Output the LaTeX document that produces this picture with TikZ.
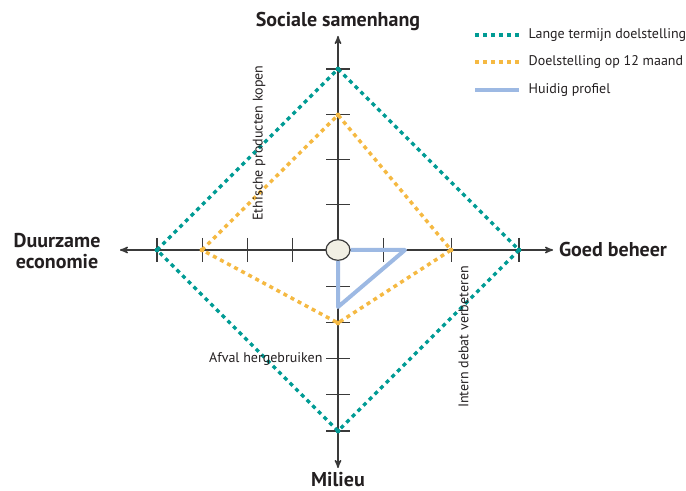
\documentclass[tikz,border=0pt]{standalone}
\usepackage{fontspec}
\setmainfont{PT Sans}
\usetikzlibrary{shapes.geometric, arrows}
\definecolor{axisgray}{HTML}{3A3A3A}
\definecolor{textgray}{HTML}{231F20}
\definecolor{longcol}{HTML}{009B94}
\definecolor{shortcol}{HTML}{F5B942}
\definecolor{nowcol}{HTML}{9DB9E3}
\definecolor{centrefill}{HTML}{F1EFE4}
\tikzstyle{axis} = [draw=axisgray, line width=1.1pt, -stealth']
\tikzstyle{tick} = [draw=axisgray, line width=0.9pt]
\tikzstyle{longterm} = [draw=longcol, line width=2.6pt, dash pattern=on 3pt off 3pt]
\tikzstyle{shortterm} = [draw=shortcol, line width=2.6pt, dash pattern=on 3pt off 3pt]
\tikzstyle{current} = [draw=nowcol, line width=3pt, line join=round]
\tikzstyle{axislabel} = [text=textgray, font=\bfseries\fontsize{15}{15.5}\selectfont, align=center, inner sep=0pt]
\tikzstyle{itemlabel} = [text=textgray, font=\fontsize{10.5}{12}\selectfont, inner sep=1pt]
\tikzset{
  centre/.style={
    ellipse,
    draw=axisgray,
    line width=0.9pt,
    fill=centrefill,
    minimum width=18pt,
    minimum height=15.5pt,
    inner sep=0pt}
}

\begin{document}
\begin{tikzpicture}[x=0.75pt, y=-0.75pt]
      \useasboundingbox (0,0) rectangle (686,491);
      % Axes and ticks
      \coordinate (origin) at (338,250);
      \coordinate (social_end) at (338,36);
      \coordinate (environment_end) at (338,468);
      \coordinate (economy_end) at (120,250);
      \coordinate (governance_end) at (553,250);
      \draw [axis] (origin) -- (social_end);
      \draw [axis] (origin) -- (environment_end);
      \draw [axis] (origin) -- (economy_end);
      \draw [axis] (origin) -- (governance_end);
      \foreach \d in {45.25,90.5,135.75,181}
        \draw [tick] ({326},{250-\d}) -- ++(24,0);
      \foreach \d in {36.2,72.4,108.6,144.8,181}
        \draw [tick] ({326},{250+\d}) -- ++(24,0);
      \foreach \d in {45.25,90.5,135.75,181}
        \draw [tick] ({338-\d},{238}) -- ++(0,24);
      \foreach \d in {45.25,113.1,181}
        \draw [tick] ({338+\d},{238}) -- ++(0,24);

      % Profiles
      \coordinate (long_w) at (157,250);
      \coordinate (long_n) at (338,69);
      \coordinate (long_e) at (519,250);
      \coordinate (long_s) at (338,431);
      \coordinate (short_w) at (202,250);
      \coordinate (short_n) at (338,115);
      \coordinate (short_e) at (451,250);
      \coordinate (short_s) at (338,323);
      \draw [longterm] (long_w) -- (long_n) -- (long_e) -- (long_s) -- cycle;
      \draw [shortterm] (short_w) -- (short_n) -- (short_e) -- (short_s) -- cycle;
      \foreach \p in {long_w,long_n,long_e,long_s}
        \fill [longcol] (\p) circle (1.8pt);
      \foreach \p in {short_w,short_n,short_e,short_s}
        \fill [shortcol] (\p) circle (1.8pt);
      \node (centre) [centre] at (origin) {};
      \coordinate (now_e) at (405,250);
      \coordinate (now_s) at (338,307);
      \draw [current] (centre.east) -- (now_e) -- (now_s) -- (centre.south);

      % Axis labels
      \node (social) [axislabel] at (338,21) {Sociale samenhang};
      \node (environment) [axislabel] at (338,480) {Milieu};
      \node (economy) [axislabel] at (57,251) {Duurzame\\economie};
      \node (governance) [axislabel] at (613,250) {Goed beheer};
      \node (ethical) [itemlabel, rotate=90] at (259,143) {Ethische producten kopen};
      \node (recycle) [itemlabel, anchor=east] at (324,359) {Afval hergebruiken};
      \node (debate) [itemlabel, rotate=90] at (463.5,337) {Intern debat verbeteren};

      % Legend
      \coordinate (key_long) at (475,35);
      \coordinate (key_short) at (475,62);
      \coordinate (key_now) at (475,90);
      \draw [longterm] (key_long) -- ++(44,0);
      \draw [shortterm] (key_short) -- ++(44,0);
      \draw [current] (key_now) -- ++(44,0);
      \node (key_long_text) [itemlabel, anchor=west] at (527,35) {Lange termijn doelstelling};
      \node (key_short_text) [itemlabel, anchor=west] at (527,62) {Doelstelling op 12 maand};
      \node (key_now_text) [itemlabel, anchor=west] at (527,90) {Huidig profiel};
    \end{tikzpicture}
\end{document}
